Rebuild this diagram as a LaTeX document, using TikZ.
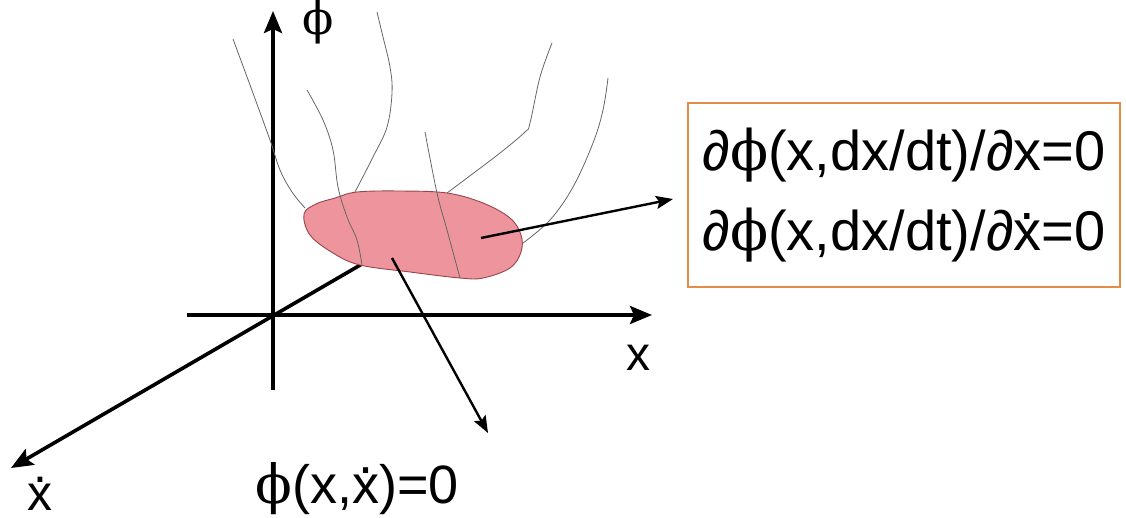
\documentclass[tikz,border=0pt]{standalone}
\usepackage{fontspec}
\setmainfont{Liberation Sans}
\newfontfamily\phifont{DejaVu Serif}
\usetikzlibrary{arrows.meta}
\newcommand{\phs}{{\phifont ϕ}}
\newcommand{\xd}{{\ooalign{x\cr\hidewidth\raisebox{0.55em}{.}\hidewidth\cr}}}
\definecolor{blobpink}{RGB}{238,148,156}
\definecolor{blobedge}{RGB}{150,70,75}
\definecolor{boxorange}{RGB}{226,140,72}
\begin{document}
\begin{tikzpicture}[x=1pt,y=-1pt,
  axis/.style={line width=3.6pt,-{Stealth[length=22pt,width=18pt,inset=4pt]}},
  ptr/.style={line width=2.4pt,-{Stealth[length=17pt,width=13pt,inset=3pt]}},
  fib/.style={line width=0.8pt,draw=black!60},
  lbl/.style={inner sep=0pt,anchor=base},
  eqbox/.style={draw=boxorange,line width=2pt,minimum width=432pt,minimum height=184pt,
    align=left,inner xsep=10pt,font=\fontsize{56}{80}\selectfont}]
\useasboundingbox (0,0) rectangle (1126,517);
% axes
\coordinate (O) at (273,315);
\coordinate (ytip) at (273,11);
\coordinate (ybot) at (273,390);
\coordinate (xleft) at (187,315);
\coordinate (xtip) at (652,315);
\coordinate (dstart) at (362,264);
\coordinate (dtip) at (11,468);
\draw[axis] (ybot) -- (ytip);
\draw[axis] (xleft) -- (xtip);
\draw[axis] (dstart) -- (dtip);
% fibres
\draw[fib] plot[smooth,tension=0.6] coordinates {(233,39) (250,85) (270,140) (280,170) (292,192) (305,208)};
\draw[fib] plot[smooth,tension=0.6] coordinates {(377,12) (382,33) (390,67) (392,93) (387,127) (373,157) (355,192)};
\draw[fib] plot[smooth,tension=0.6] coordinates {(552,43) (540,77) (530,123) (525,132) (500,153) (467,178) (447,193)};
\draw[fib] plot[smooth,tension=0.6] coordinates {(608,78) (603,110) (593,143) (573,187) (550,220) (523,243)};
% blob
\draw[fill=blobpink,draw=blobedge,line width=0.9pt] plot[smooth cycle,tension=0.6] coordinates {(304,214) (316,204) (335,198) (357,192) (400,191) (447,193) (483,203) (510,218) (521,235) (521,252) (510,268) (483,278) (460,278) (410,272) (360,265) (333,253) (310,235)};
% fibres crossing the blob
\draw[fib] plot[smooth,tension=0.6] coordinates {(307,90) (323,120) (333,150) (338,187) (347,217) (357,240) (362,265)};
\draw[fib] plot[smooth,tension=0.6] coordinates {(425,132) (437,193) (447,230) (460,278)};
% labels
\node[lbl,font=\fontsize{46}{46}\selectfont] (phil) at (318,34) {\phs};
\node[lbl,font=\fontsize{48}{48}\selectfont] (xl) at (638,370) {x};
\node[lbl,font=\fontsize{50}{50}\selectfont] (xdl) at (40,510) {\xd};
\node[lbl,font=\fontsize{54}{54}\selectfont] (cond) at (357,503) {\phs(x,\xd)=0};
\node[eqbox] (eqs) at (904,195) {∂\phs(x,dx/dt)/∂x=0\\∂\phs(x,dx/dt)/∂\xd=0};
% pointers
\coordinate (pA) at (481,238);
\coordinate (pAend) at (673,199);
\coordinate (pB) at (392,258);
\coordinate (pBend) at (488,433);
\draw[ptr] (pA) -- (pAend);
\draw[ptr] (pB) -- (pBend);
\end{tikzpicture}
\end{document}
